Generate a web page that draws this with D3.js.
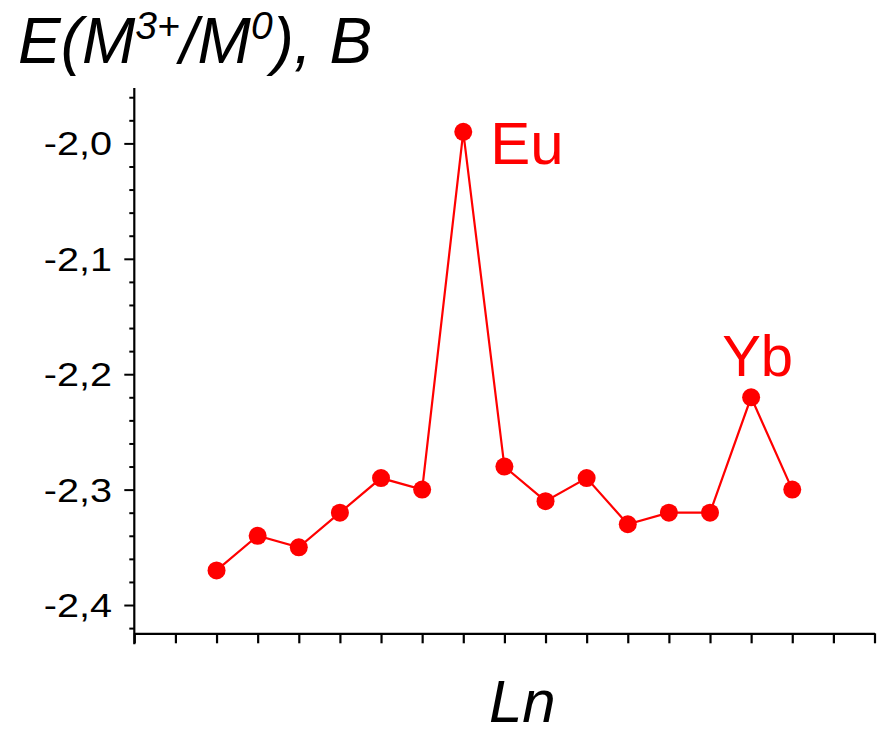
<!DOCTYPE html>
<html>
<head>
<meta charset="utf-8">
<script src="https://cdn.jsdelivr.net/npm/d3@7"></script>
<style>
  html, body { margin: 0; padding: 0; background: #fff; }
  svg { display: block; font-family: "Liberation Sans", Arial, sans-serif; }
</style>
</head>
<body>
<svg id="chart" width="887" height="729"></svg>
<script>
// ---- data ----
const elements = ["La","Ce","Pr","Nd","Pm","Sm","Eu","Gd","Tb","Dy","Ho","Er","Tm","Yb","Lu"];
const positions = [2,3,4,5,6,7,8,9,10,11,12,13,14,15,16];
const potentials = [-2.37,-2.34,-2.35,-2.32,-2.29,-2.30,-1.99,-2.28,-2.31,-2.29,-2.33,-2.32,-2.32,-2.22,-2.30];
const yMajorTicks = [-2.4,-2.3,-2.2,-2.1,-2.0];
const yTickLabels = ["-2,4","-2,3","-2,2","-2,1","-2,0"];
const yMinorTicks = [-2.42,-2.38,-2.36,-2.34,-2.32,-2.28,-2.26,-2.24,-2.22,-2.18,-2.16,-2.14,-2.12,-2.08,-2.06,-2.04,-2.02,-1.98,-1.96];
const xTicks = d3.range(0,19);
const annotated = [{name:"Eu", dx: 27, dy: 32}, {name:"Yb", dx: -29, dy: -21}];

const svg = d3.select("#chart");
const x = d3.scaleLinear().domain([0,18]).range([134.3, 874.5]);
const y = d3.scaleLinear().domain([-2.4245,-1.952]).range([633.3, 88]);
const red = "#ff0000";

// y axis
const yAxis = svg.append("g").attr("transform", `translate(${x(0)},0)`);
yAxis.call(d3.axisLeft(y).tickValues(yMajorTicks).tickSize(10).tickSizeOuter(0).tickFormat(""));
yAxis.call(g => g.select(".domain").remove());
yAxis.selectAll(".tick line").attr("stroke","#000").attr("stroke-width",2);
const yMinor = svg.append("g").attr("transform", `translate(${x(0)},0)`);
yMinor.call(d3.axisLeft(y).tickValues(yMinorTicks).tickSize(5).tickSizeOuter(0).tickFormat(""));
yMinor.call(g => g.select(".domain").remove());
yMinor.selectAll(".tick line").attr("stroke","#000").attr("stroke-width",2);
svg.append("line").attr("x1", x(0)).attr("x2", x(0)).attr("y1", y.range()[1]).attr("y2", y.range()[0] + 11)
  .attr("stroke","#000").attr("stroke-width",2.2);

// y tick labels
svg.append("g").selectAll("text").data(yMajorTicks).join("text")
  .attr("transform", d => `translate(112,${y(d) + 12}) scale(1.2,1)`)
  .attr("text-anchor","end")
  .attr("font-size", 33)
  .attr("fill","#000")
  .text((d,i) => yTickLabels[i]);

// x axis
const xAxis = svg.append("g").attr("transform", `translate(0,${y.range()[0]})`);
xAxis.call(d3.axisBottom(x).tickValues(xTicks).tickSize(10).tickSizeOuter(0).tickFormat(""));
xAxis.select(".domain").attr("stroke","#000").attr("stroke-width",2.2);
xAxis.selectAll(".tick line").attr("stroke","#000").attr("stroke-width",2.2);

// line + points
const line = d3.line().x((d,i) => x(positions[i])).y(d => y(d));
svg.append("path").datum(potentials).attr("d", line)
  .attr("fill","none").attr("stroke", red).attr("stroke-width", 2.2);
svg.append("g").selectAll("circle").data(potentials).join("circle")
  .attr("cx", (d,i) => x(positions[i])).attr("cy", d => y(d)).attr("r", 9).attr("fill", red);

// annotations
svg.append("g").selectAll("text").data(annotated).join("text")
  .attr("x", d => x(positions[elements.indexOf(d.name)]) + d.dx)
  .attr("y", d => y(potentials[elements.indexOf(d.name)]) + d.dy)
  .attr("font-size", d => d.name === "Yb" ? 58 : 60).attr("fill", red)
  .text(d => d.name);

// title
const t = svg.append("text").attr("x", 18).attr("y", 63).attr("font-size", 64).attr("font-style","italic").attr("fill","#000");
t.append("tspan").text("E(M");
t.append("tspan").attr("font-size", 39).attr("dy", -24).text("3+");
t.append("tspan").attr("dy", 24).text("/M");
t.append("tspan").attr("font-size", 39).attr("dy", -24).text("0");
t.append("tspan").attr("dy", 24).text("), B");

// x label
svg.append("text").attr("x", 489).attr("y", 722).attr("font-size", 60).attr("font-style","italic").attr("fill","#000").text("Ln");
</script>
</body>
</html>
